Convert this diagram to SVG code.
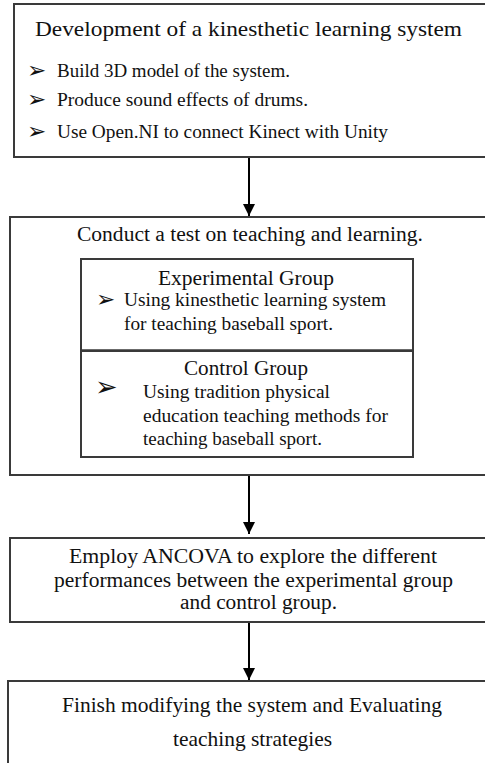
<svg xmlns="http://www.w3.org/2000/svg" width="485" height="763" viewBox="0 0 485 763">
<defs>
<style>
.box{fill:#fff;stroke:#3a3a3a;stroke-width:2}
.t{fill:#111}
.b{fill:#111}
.c{stroke:#000;stroke-width:2;fill:none}
</style>
<marker id="ah" markerWidth="12" markerHeight="12" viewBox="0 0 12 12" refX="12" refY="6" orient="auto" markerUnits="userSpaceOnUse">
<path d="M0,0 L12,6 L0,12 Z" fill="#000"/>
</marker>
</defs>
<rect width="485" height="763" fill="#fff"/>
<g id="connectors">
<line class="c" x1="249" y1="158" x2="249" y2="216" marker-end="url(#ah)"/>
<line class="c" x1="249" y1="476" x2="249" y2="534" marker-end="url(#ah)"/>
<line class="c" x1="249" y1="623" x2="249" y2="680" marker-end="url(#ah)"/>
</g>
<g font-family="'Liberation Serif', 'DejaVu Serif', serif">
<g id="node1">
<rect class="box" x="14" y="4" width="474" height="153"/>
<text class="t" x="35" y="36" font-size="21" textLength="427" lengthAdjust="spacingAndGlyphs">Development of a kinesthetic learning system</text>
<text class="b" x="27" y="78" font-family="'DejaVu Sans', sans-serif" font-size="23">➢</text>
<text class="t" x="57" y="77" font-size="18" textLength="233" lengthAdjust="spacingAndGlyphs">Build 3D model of the system.</text>
<text class="b" x="27" y="107" font-family="'DejaVu Sans', sans-serif" font-size="23">➢</text>
<text class="t" x="57" y="106" font-size="18" textLength="251" lengthAdjust="spacingAndGlyphs">Produce sound effects of drums.</text>
<text class="b" x="27" y="139" font-family="'DejaVu Sans', sans-serif" font-size="23">➢</text>
<text class="t" x="57" y="138" font-size="18" textLength="331" lengthAdjust="spacingAndGlyphs">Use Open.NI to connect Kinect with Unity</text>
</g>
<g id="node2">
<rect class="box" x="10" y="217" width="478" height="258"/>
<text class="t" x="77" y="241" font-size="20" textLength="346" lengthAdjust="spacingAndGlyphs">Conduct a test on teaching and learning.</text>
</g>
<g id="node2a">
<rect class="box" x="81" y="259" width="332" height="92"/>
<text class="t" x="158" y="285" font-size="20" textLength="176" lengthAdjust="spacingAndGlyphs">Experimental Group</text>
<text class="b" x="96" y="307" font-family="'DejaVu Sans', sans-serif" font-size="23">➢</text>
<text class="t" x="124" y="306" font-size="18" textLength="262" lengthAdjust="spacingAndGlyphs">Using kinesthetic learning system</text>
<text class="t" x="124" y="330" font-size="18" textLength="209" lengthAdjust="spacingAndGlyphs">for teaching baseball sport.</text>
</g>
<g id="node2b">
<rect class="box" x="81" y="351" width="332" height="106"/>
<line x1="81" y1="350" x2="413" y2="350" stroke="#3a3a3a" stroke-width="1.5"/>
<text class="t" x="184" y="375" font-size="20" textLength="124" lengthAdjust="spacingAndGlyphs">Control Group</text>
<text class="b" x="95" y="396" font-family="'DejaVu Sans', sans-serif" font-size="27">➢</text>
<text class="t" x="143" y="398" font-size="18" textLength="187" lengthAdjust="spacingAndGlyphs">Using tradition physical</text>
<text class="t" x="143" y="422" font-size="18" textLength="245" lengthAdjust="spacingAndGlyphs">education teaching methods for</text>
<text class="t" x="143" y="445" font-size="18" textLength="179" lengthAdjust="spacingAndGlyphs">teaching baseball sport.</text>
</g>
<g id="node3">
<rect class="box" x="10" y="538" width="478" height="84"/>
<text class="t" x="69" y="563" font-size="20" textLength="368" lengthAdjust="spacingAndGlyphs">Employ ANCOVA to explore the different</text>
<text class="t" x="54" y="587" font-size="20" textLength="399" lengthAdjust="spacingAndGlyphs">performances between the experimental group</text>
<text class="t" x="180" y="609" font-size="20" textLength="157" lengthAdjust="spacingAndGlyphs">and control group.</text>
</g>
<g id="node4">
<rect class="box" x="8" y="681" width="480" height="100"/>
<text class="t" x="62" y="712" font-size="21" textLength="380" lengthAdjust="spacingAndGlyphs">Finish modifying the system and Evaluating</text>
<text class="t" x="173" y="746" font-size="21" textLength="159" lengthAdjust="spacingAndGlyphs">teaching strategies</text>
</g>
</g>
</svg>
